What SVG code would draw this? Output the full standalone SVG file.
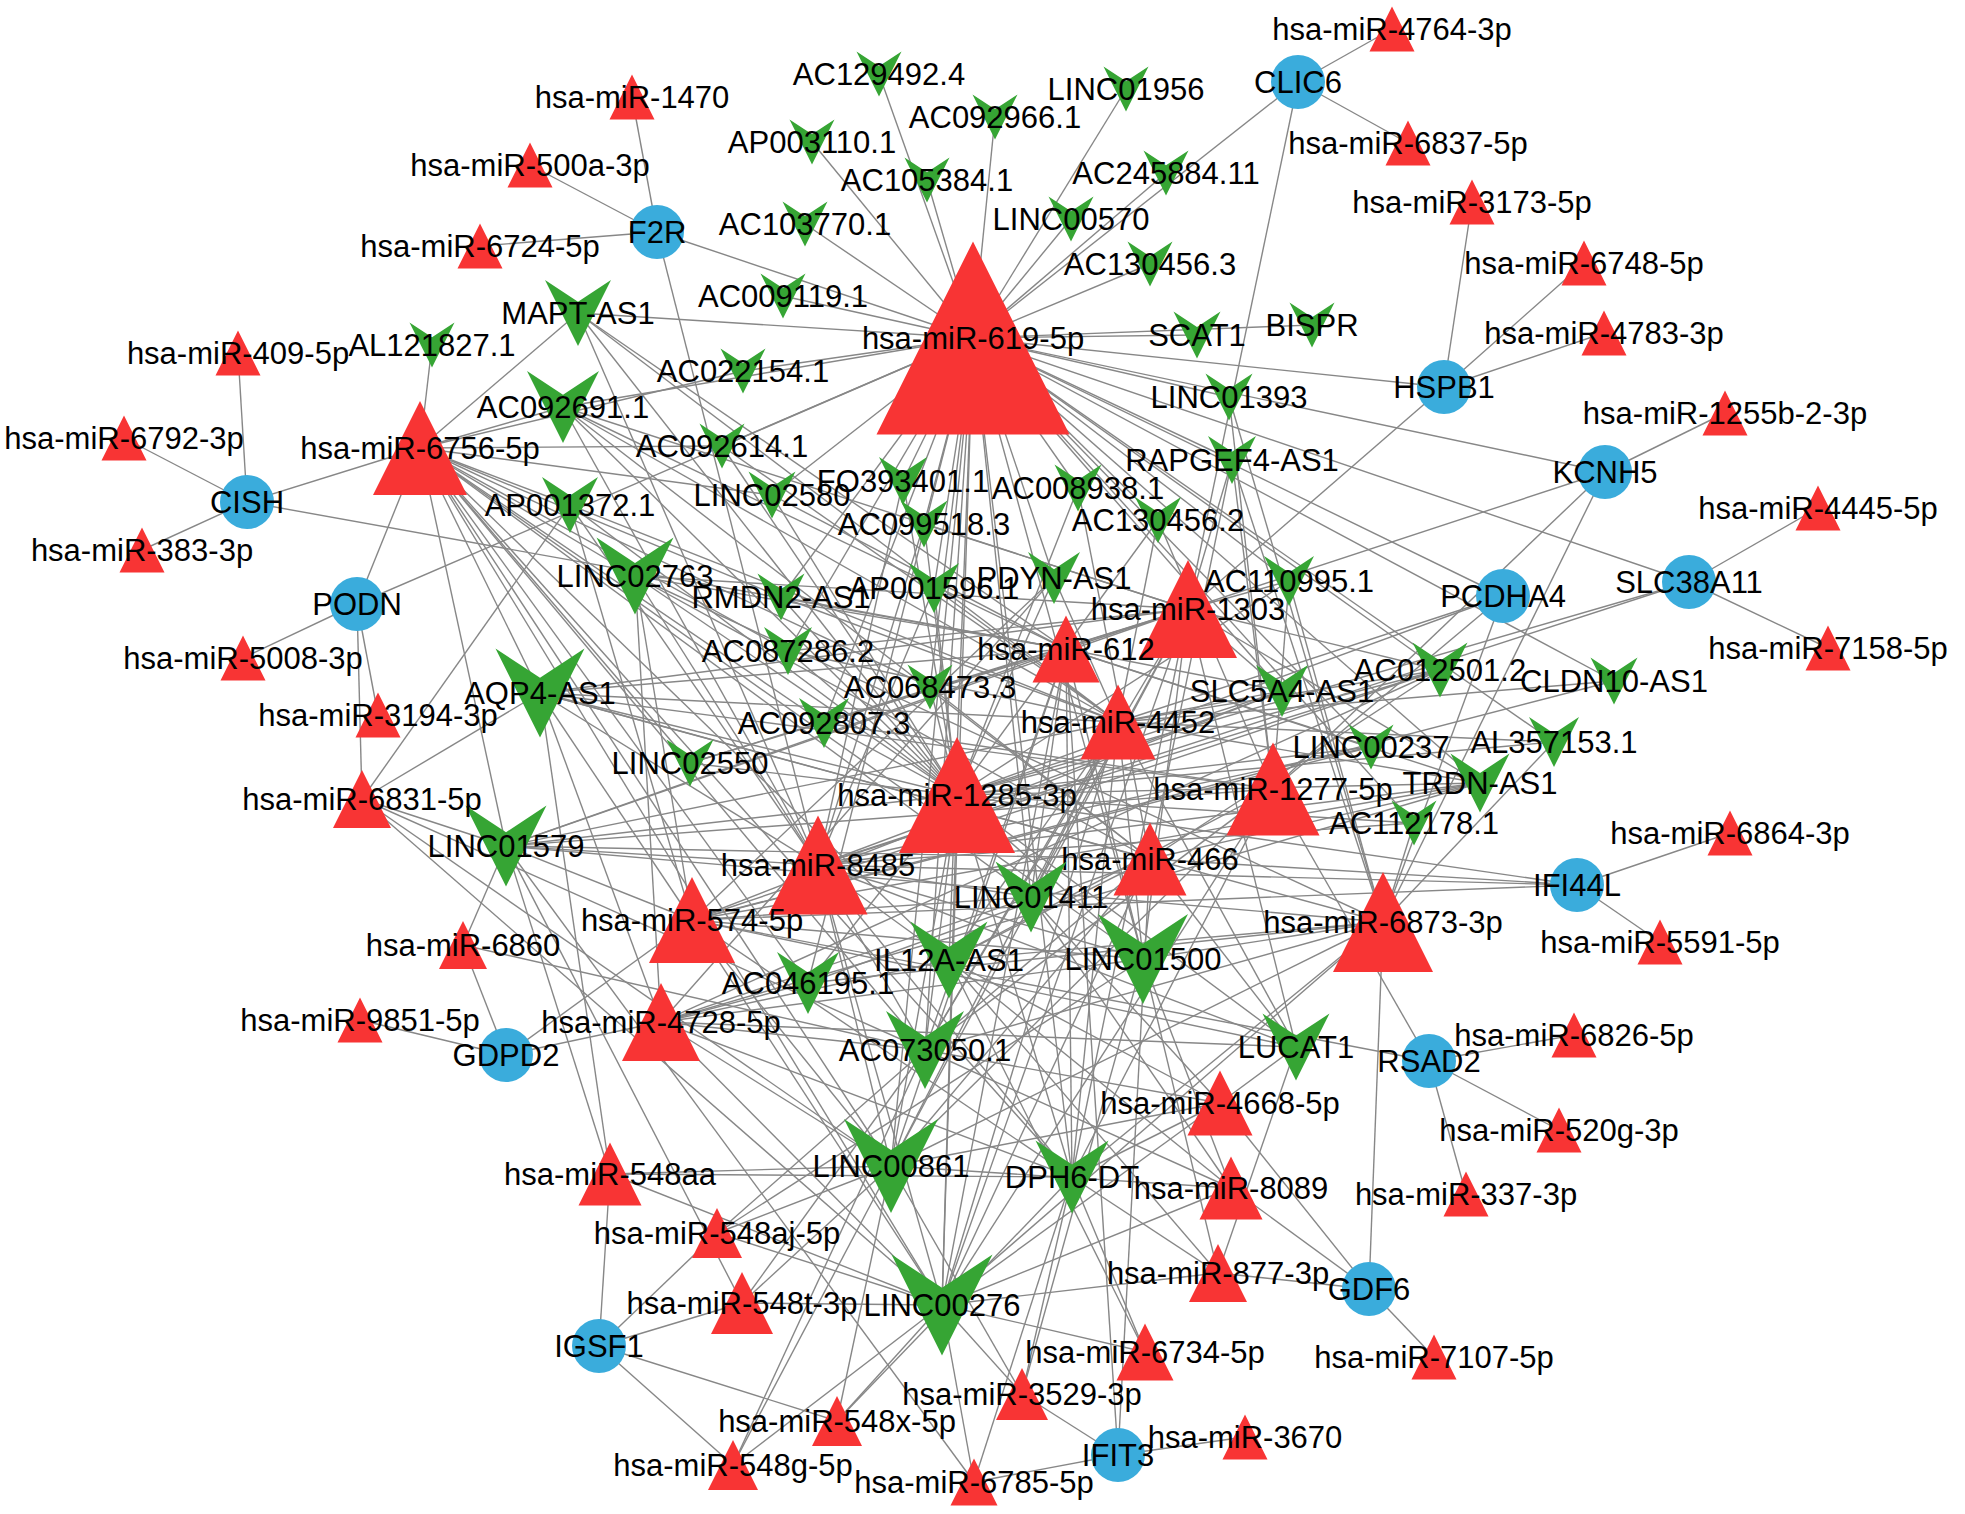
<svg xmlns="http://www.w3.org/2000/svg" xmlns:xlink="http://www.w3.org/1999/xlink" width="1965" height="1514" viewBox="0 0 1965 1514">
<defs>
<style>
.e path{fill:none;stroke:#878787;stroke-width:1.4}
text{font-family:"Liberation Sans",Arial,sans-serif;font-size:31px;fill:#000;text-anchor:middle}
.t{fill:#f83434}
.v{fill:#36a534}
.c{fill:#3aacdc}
</style>
<polygon id="tri" points="0,-0.5 -0.5,0.5 0.5,0.5"/>
<polygon id="vee" points="-0.5,-0.5 0,-0.17 0.5,-0.5 0,0.5"/>
<circle id="circ" r="27"/>
</defs>
<rect width="1965" height="1514" fill="#fff"/>
<g id="edges" class="e">
<path d="M657 232L632 97"/><path d="M657 232L530 165"/><path d="M657 232L480 246"/><path d="M657 232L973 338"/><path d="M657 232L818 865"/>
<path d="M247 502L238 353"/><path d="M247 502L124 438"/><path d="M247 502L142 550"/><path d="M247 502L420 448"/><path d="M247 502L1066 649"/>
<path d="M357 604L243 658"/><path d="M357 604L378 715"/><path d="M357 604L362 799"/><path d="M357 604L420 448"/><path d="M357 604L973 338"/>
<path d="M506 1055L360 1020"/><path d="M506 1055L463 945"/><path d="M506 1055L661 1022"/><path d="M506 1055L692 920"/>
<path d="M599 1346L610 1174"/><path d="M599 1346L717 1233"/><path d="M599 1346L742 1303"/><path d="M599 1346L837 1421"/><path d="M599 1346L733 1465"/>
<path d="M1118 1455L1245 1437"/><path d="M1118 1455L974 1482"/><path d="M1118 1455L1022 1394"/><path d="M1118 1455L1150 859"/><path d="M1118 1455L1066 649"/>
<path d="M1369 1289L1434 1357"/><path d="M1369 1289L1220 1103"/><path d="M1369 1289L1231 1188"/><path d="M1369 1289L1218 1273"/><path d="M1369 1289L1383 922"/>
<path d="M1429 1061L1574 1035"/><path d="M1429 1061L1559 1130"/><path d="M1429 1061L1466 1194"/><path d="M1429 1061L692 920"/><path d="M1429 1061L1273 789"/>
<path d="M1577 885L1730 833"/><path d="M1577 885L1660 942"/><path d="M1577 885L1150 859"/><path d="M1577 885L818 865"/><path d="M1577 885L957 795"/><path d="M1577 885L692 920"/>
<path d="M1689 582L1818 508"/><path d="M1689 582L1828 648"/><path d="M1689 582L818 865"/><path d="M1689 582L957 795"/><path d="M1689 582L973 338"/>
<path d="M1503 596L973 338"/><path d="M1503 596L1118 722"/><path d="M1503 596L957 795"/><path d="M1503 596L1383 922"/><path d="M1503 596L1273 789"/>
<path d="M1605 472L1725 413"/><path d="M1605 472L973 338"/><path d="M1605 472L1066 649"/><path d="M1605 472L1273 789"/><path d="M1605 472L1383 922"/>
<path d="M1444 387L1472 202"/><path d="M1444 387L1584 263"/><path d="M1444 387L1604 333"/><path d="M1444 387L973 338"/><path d="M1444 387L1188 609"/>
<path d="M1298 82L1392 29"/><path d="M1298 82L1408 143"/><path d="M1298 82L973 338"/><path d="M1298 82L1188 609"/>
<path d="M879 74L973 338"/><path d="M1126 89L973 338"/><path d="M995 117L973 338"/><path d="M812 142L973 338"/><path d="M927 180L973 338"/><path d="M1166 173L973 338"/><path d="M805 224L973 338"/><path d="M1071 219L973 338"/><path d="M1150 264L973 338"/><path d="M783 296L973 338"/><path d="M1312 325L973 338"/><path d="M1197 335L973 338"/>
<path d="M432 345L420 448"/>
<path d="M578 313L973 338"/><path d="M578 313L420 448"/><path d="M578 313L957 795"/><path d="M578 313L818 865"/><path d="M578 313L1118 722"/><path d="M578 313L1066 649"/>
<path d="M743 371L973 338"/><path d="M743 371L420 448"/>
<path d="M1229 397L973 338"/><path d="M1229 397L1383 922"/><path d="M1229 397L1273 789"/>
<path d="M563 407L973 338"/><path d="M563 407L420 448"/><path d="M563 407L957 795"/><path d="M563 407L818 865"/><path d="M563 407L1188 609"/><path d="M563 407L1118 722"/><path d="M563 407L1066 649"/><path d="M563 407L1150 859"/>
<path d="M722 446L973 338"/><path d="M722 446L420 448"/><path d="M722 446L957 795"/><path d="M722 446L1118 722"/>
<path d="M1232 460L973 338"/><path d="M1232 460L1383 922"/><path d="M1232 460L1273 789"/><path d="M1232 460L1188 609"/><path d="M1232 460L1150 859"/>
<path d="M903 481L973 338"/><path d="M903 481L957 795"/><path d="M903 481L818 865"/>
<path d="M1078 488L973 338"/><path d="M1078 488L957 795"/><path d="M1078 488L1150 859"/>
<path d="M570 505L420 448"/><path d="M570 505L957 795"/><path d="M570 505L818 865"/><path d="M570 505L692 920"/><path d="M570 505L1118 722"/><path d="M570 505L362 799"/>
<path d="M772 495L973 338"/><path d="M772 495L420 448"/><path d="M772 495L957 795"/><path d="M772 495L1066 649"/>
<path d="M924 524L973 338"/><path d="M924 524L957 795"/><path d="M924 524L818 865"/><path d="M924 524L1188 609"/>
<path d="M1158 520L973 338"/><path d="M1158 520L957 795"/><path d="M1158 520L1273 789"/><path d="M1158 520L1118 722"/>
<path d="M635 576L420 448"/><path d="M635 576L957 795"/><path d="M635 576L818 865"/><path d="M635 576L692 920"/><path d="M635 576L661 1022"/><path d="M635 576L1383 922"/><path d="M635 576L1188 609"/><path d="M635 576L1066 649"/><path d="M635 576L1150 859"/>
<path d="M781 597L973 338"/><path d="M781 597L420 448"/><path d="M781 597L957 795"/><path d="M781 597L1118 722"/><path d="M781 597L1066 649"/>
<path d="M934 588L973 338"/><path d="M934 588L957 795"/><path d="M934 588L818 865"/><path d="M934 588L1118 722"/>
<path d="M1054 578L973 338"/><path d="M1054 578L957 795"/><path d="M1054 578L692 920"/><path d="M1054 578L661 1022"/><path d="M1054 578L1118 722"/>
<path d="M1289 581L973 338"/><path d="M1289 581L957 795"/><path d="M1289 581L1383 922"/><path d="M1289 581L1273 789"/><path d="M1289 581L1188 609"/>
<path d="M788 651L973 338"/><path d="M788 651L420 448"/><path d="M788 651L957 795"/><path d="M788 651L1188 609"/><path d="M788 651L1118 722"/>
<path d="M930 687L973 338"/><path d="M930 687L420 448"/><path d="M930 687L957 795"/><path d="M930 687L1150 859"/>
<path d="M1282 691L973 338"/><path d="M1282 691L957 795"/><path d="M1282 691L818 865"/><path d="M1282 691L692 920"/><path d="M1282 691L1188 609"/><path d="M1282 691L1118 722"/><path d="M1282 691L1066 649"/>
<path d="M1440 670L973 338"/><path d="M1440 670L957 795"/><path d="M1440 670L818 865"/><path d="M1440 670L692 920"/><path d="M1440 670L661 1022"/><path d="M1440 670L1188 609"/><path d="M1440 670L1118 722"/><path d="M1440 670L1150 859"/>
<path d="M1614 681L973 338"/><path d="M1614 681L692 920"/><path d="M1614 681L1118 722"/>
<path d="M540 693L420 448"/><path d="M540 693L957 795"/><path d="M540 693L818 865"/><path d="M540 693L692 920"/><path d="M540 693L661 1022"/><path d="M540 693L1383 922"/><path d="M540 693L1273 789"/><path d="M540 693L1188 609"/><path d="M540 693L1118 722"/><path d="M540 693L1066 649"/><path d="M540 693L1150 859"/><path d="M540 693L610 1174"/><path d="M540 693L362 799"/>
<path d="M824 723L973 338"/><path d="M824 723L420 448"/><path d="M824 723L957 795"/><path d="M824 723L1273 789"/><path d="M824 723L1188 609"/>
<path d="M690 763L420 448"/><path d="M690 763L957 795"/><path d="M690 763L1188 609"/><path d="M690 763L1066 649"/>
<path d="M1371 747L973 338"/><path d="M1371 747L957 795"/><path d="M1371 747L818 865"/><path d="M1371 747L692 920"/><path d="M1371 747L1066 649"/>
<path d="M1554 742L973 338"/><path d="M1554 742L957 795"/><path d="M1554 742L1383 922"/><path d="M1554 742L1118 722"/>
<path d="M1480 783L973 338"/><path d="M1480 783L957 795"/><path d="M1480 783L818 865"/><path d="M1480 783L692 920"/><path d="M1480 783L661 1022"/><path d="M1480 783L1188 609"/><path d="M1480 783L1118 722"/><path d="M1480 783L1066 649"/><path d="M1480 783L1150 859"/>
<path d="M1414 823L973 338"/><path d="M1414 823L957 795"/><path d="M1414 823L818 865"/><path d="M1414 823L1383 922"/>
<path d="M506 846L420 448"/><path d="M506 846L957 795"/><path d="M506 846L818 865"/><path d="M506 846L692 920"/><path d="M506 846L1383 922"/><path d="M506 846L1273 789"/><path d="M506 846L1188 609"/><path d="M506 846L1118 722"/><path d="M506 846L1066 649"/><path d="M506 846L1150 859"/><path d="M506 846L742 1303"/><path d="M506 846L610 1174"/><path d="M506 846L974 1482"/><path d="M506 846L362 799"/><path d="M506 846L463 945"/>
<path d="M1031 897L973 338"/><path d="M1031 897L420 448"/><path d="M1031 897L818 865"/><path d="M1031 897L692 920"/><path d="M1031 897L661 1022"/><path d="M1031 897L1188 609"/><path d="M1031 897L1118 722"/><path d="M1031 897L1066 649"/><path d="M1031 897L1220 1103"/><path d="M1031 897L1231 1188"/>
<path d="M949 960L973 338"/><path d="M949 960L420 448"/><path d="M949 960L818 865"/><path d="M949 960L661 1022"/><path d="M949 960L1383 922"/><path d="M949 960L1273 789"/><path d="M949 960L1118 722"/><path d="M949 960L1150 859"/><path d="M949 960L1220 1103"/><path d="M949 960L1231 1188"/><path d="M949 960L1218 1273"/><path d="M949 960L1145 1352"/>
<path d="M1143 959L973 338"/><path d="M1143 959L420 448"/><path d="M1143 959L957 795"/><path d="M1143 959L818 865"/><path d="M1143 959L692 920"/><path d="M1143 959L661 1022"/><path d="M1143 959L1383 922"/><path d="M1143 959L1188 609"/><path d="M1143 959L1118 722"/><path d="M1143 959L1066 649"/><path d="M1143 959L1231 1188"/><path d="M1143 959L1218 1273"/><path d="M1143 959L1022 1394"/><path d="M1143 959L717 1233"/>
<path d="M808 983L973 338"/><path d="M808 983L420 448"/><path d="M808 983L957 795"/><path d="M808 983L661 1022"/><path d="M808 983L1383 922"/><path d="M808 983L1150 859"/>
<path d="M925 1050L973 338"/><path d="M925 1050L420 448"/><path d="M925 1050L957 795"/><path d="M925 1050L818 865"/><path d="M925 1050L1383 922"/><path d="M925 1050L1273 789"/><path d="M925 1050L1188 609"/><path d="M925 1050L1118 722"/><path d="M925 1050L1066 649"/><path d="M925 1050L1150 859"/><path d="M925 1050L1220 1103"/><path d="M925 1050L1231 1188"/><path d="M925 1050L742 1303"/><path d="M925 1050L717 1233"/><path d="M925 1050L733 1465"/><path d="M925 1050L463 945"/><path d="M925 1050L661 1022"/><path d="M925 1050L362 799"/>
<path d="M1296 1047L957 795"/><path d="M1296 1047L818 865"/><path d="M1296 1047L692 920"/><path d="M1296 1047L661 1022"/><path d="M1296 1047L1188 609"/><path d="M1296 1047L1118 722"/><path d="M1296 1047L1150 859"/><path d="M1296 1047L1220 1103"/><path d="M1296 1047L1218 1273"/>
<path d="M891 1166L973 338"/><path d="M891 1166L420 448"/><path d="M891 1166L957 795"/><path d="M891 1166L818 865"/><path d="M891 1166L692 920"/><path d="M891 1166L1383 922"/><path d="M891 1166L1273 789"/><path d="M891 1166L1188 609"/><path d="M891 1166L1118 722"/><path d="M891 1166L1066 649"/><path d="M891 1166L1150 859"/><path d="M891 1166L1220 1103"/><path d="M891 1166L1231 1188"/><path d="M891 1166L742 1303"/><path d="M891 1166L610 1174"/><path d="M891 1166L717 1233"/><path d="M891 1166L1022 1394"/><path d="M891 1166L837 1421"/><path d="M891 1166L733 1465"/><path d="M891 1166L362 799"/><path d="M891 1166L661 1022"/>
<path d="M1072 1177L973 338"/><path d="M1072 1177L420 448"/><path d="M1072 1177L957 795"/><path d="M1072 1177L818 865"/><path d="M1072 1177L692 920"/><path d="M1072 1177L661 1022"/><path d="M1072 1177L1383 922"/><path d="M1072 1177L1273 789"/><path d="M1072 1177L1188 609"/><path d="M1072 1177L1118 722"/><path d="M1072 1177L1066 649"/><path d="M1072 1177L1220 1103"/><path d="M1072 1177L1218 1273"/><path d="M1072 1177L1145 1352"/><path d="M1072 1177L610 1174"/><path d="M1072 1177L1022 1394"/><path d="M1072 1177L974 1482"/><path d="M1072 1177L837 1421"/>
<path d="M942 1305L973 338"/><path d="M942 1305L420 448"/><path d="M942 1305L957 795"/><path d="M942 1305L818 865"/><path d="M942 1305L692 920"/><path d="M942 1305L661 1022"/><path d="M942 1305L1383 922"/><path d="M942 1305L1273 789"/><path d="M942 1305L1188 609"/><path d="M942 1305L1118 722"/><path d="M942 1305L1066 649"/><path d="M942 1305L1150 859"/><path d="M942 1305L1220 1103"/><path d="M942 1305L1231 1188"/><path d="M942 1305L1218 1273"/><path d="M942 1305L1145 1352"/><path d="M942 1305L742 1303"/><path d="M942 1305L610 1174"/><path d="M942 1305L717 1233"/><path d="M942 1305L1022 1394"/><path d="M942 1305L837 1421"/><path d="M942 1305L733 1465"/><path d="M942 1305L974 1482"/><path d="M942 1305L362 799"/>
</g>
<g id="nodes">
<g id="n-hsa-miR-619-5p" transform="translate(973 338)"><use href="#tri" class="t" transform="scale(193)"/><text y="11">hsa-miR-619-5p</text></g>
<g id="n-hsa-miR-1285-3p" transform="translate(957 795)"><use href="#tri" class="t" transform="scale(116)"/><text y="11">hsa-miR-1285-3p</text></g>
<g id="n-LINC00276" transform="translate(942 1305)"><use href="#vee" class="v" transform="scale(101)"/><text y="11">LINC00276</text></g>
<g id="n-hsa-miR-6873-3p" transform="translate(1383 922)"><use href="#tri" class="t" transform="scale(100)"/><text y="11">hsa-miR-6873-3p</text></g>
<g id="n-hsa-miR-8485" transform="translate(818 865)"><use href="#tri" class="t" transform="scale(99)"/><text y="11">hsa-miR-8485</text></g>
<g id="n-hsa-miR-1303" transform="translate(1188 609)"><use href="#tri" class="t" transform="scale(98)"/><text y="11">hsa-miR-1303</text></g>
<g id="n-hsa-miR-6756-5p" transform="translate(420 448)"><use href="#tri" class="t" transform="scale(94)"/><text y="11">hsa-miR-6756-5p</text></g>
<g id="n-LINC00861" transform="translate(891 1166)"><use href="#vee" class="v" transform="scale(94)"/><text y="11">LINC00861</text></g>
<g id="n-hsa-miR-1277-5p" transform="translate(1273 789)"><use href="#tri" class="t" transform="scale(93)"/><text y="11">hsa-miR-1277-5p</text></g>
<g id="n-LINC01500" transform="translate(1143 959)"><use href="#vee" class="v" transform="scale(90)"/><text y="11">LINC01500</text></g>
<g id="n-AQP4-AS1" transform="translate(540 693)"><use href="#vee" class="v" transform="scale(89)"/><text y="11">AQP4-AS1</text></g>
<g id="n-hsa-miR-574-5p" transform="translate(692 920)"><use href="#tri" class="t" transform="scale(86)"/><text y="11">hsa-miR-574-5p</text></g>
<g id="n-LINC01579" transform="translate(506 846)"><use href="#vee" class="v" transform="scale(81)"/><text y="11">LINC01579</text></g>
<g id="n-hsa-miR-4728-5p" transform="translate(661 1022)"><use href="#tri" class="t" transform="scale(78)"/><text y="11">hsa-miR-4728-5p</text></g>
<g id="n-AC073050_1" transform="translate(925 1050)"><use href="#vee" class="v" transform="scale(78)"/><text y="11">AC073050.1</text></g>
<g id="n-IL12A-AS1" transform="translate(949 960)"><use href="#vee" class="v" transform="scale(77)"/><text y="11">IL12A-AS1</text></g>
<g id="n-LINC02763" transform="translate(635 576)"><use href="#vee" class="v" transform="scale(77)"/><text y="11">LINC02763</text></g>
<g id="n-hsa-miR-4452" transform="translate(1118 722)"><use href="#tri" class="t" transform="scale(75)"/><text y="11">hsa-miR-4452</text></g>
<g id="n-hsa-miR-466" transform="translate(1150 859)"><use href="#tri" class="t" transform="scale(73)"/><text y="11">hsa-miR-466</text></g>
<g id="n-DPH6-DT" transform="translate(1072 1177)"><use href="#vee" class="v" transform="scale(73)"/><text y="11">DPH6-DT</text></g>
<g id="n-AC092691_1" transform="translate(563 407)"><use href="#vee" class="v" transform="scale(72)"/><text y="11">AC092691.1</text></g>
<g id="n-LINC01411" transform="translate(1031 897)"><use href="#vee" class="v" transform="scale(71)"/><text y="11">LINC01411</text></g>
<g id="n-hsa-miR-612" transform="translate(1066 649)"><use href="#tri" class="t" transform="scale(67)"/><text y="11">hsa-miR-612</text></g>
<g id="n-LUCAT1" transform="translate(1296 1047)"><use href="#vee" class="v" transform="scale(67)"/><text y="11">LUCAT1</text></g>
<g id="n-MAPT-AS1" transform="translate(578 313)"><use href="#vee" class="v" transform="scale(66)"/><text y="11">MAPT-AS1</text></g>
<g id="n-hsa-miR-4668-5p" transform="translate(1220 1103)"><use href="#tri" class="t" transform="scale(65)"/><text y="11">hsa-miR-4668-5p</text></g>
<g id="n-hsa-miR-8089" transform="translate(1231 1188)"><use href="#tri" class="t" transform="scale(63)"/><text y="11">hsa-miR-8089</text></g>
<g id="n-hsa-miR-548aa" transform="translate(610 1174)"><use href="#tri" class="t" transform="scale(63)"/><text y="11">hsa-miR-548aa</text></g>
<g id="n-AC046195_1" transform="translate(808 983)"><use href="#vee" class="v" transform="scale(62)"/><text y="11">AC046195.1</text></g>
<g id="n-hsa-miR-548t-3p" transform="translate(742 1303)"><use href="#tri" class="t" transform="scale(62)"/><text y="11">hsa-miR-548t-3p</text></g>
<g id="n-TRDN-AS1" transform="translate(1480 783)"><use href="#vee" class="v" transform="scale(59)"/><text y="11">TRDN-AS1</text></g>
<g id="n-hsa-miR-6831-5p" transform="translate(362 799)"><use href="#tri" class="t" transform="scale(58)"/><text y="11">hsa-miR-6831-5p</text></g>
<g id="n-hsa-miR-877-3p" transform="translate(1218 1273)"><use href="#tri" class="t" transform="scale(58)"/><text y="11">hsa-miR-877-3p</text></g>
<g id="n-hsa-miR-6734-5p" transform="translate(1145 1352)"><use href="#tri" class="t" transform="scale(57)"/><text y="11">hsa-miR-6734-5p</text></g>
<g id="n-AP001372_1" transform="translate(570 505)"><use href="#vee" class="v" transform="scale(56)"/><text y="11">AP001372.1</text></g>
<g id="n-AC012501_2" transform="translate(1440 670)"><use href="#vee" class="v" transform="scale(55)"/><text y="11">AC012501.2</text></g>
<g id="n-F2R" transform="translate(657 232)"><use href="#circ" class="c"/><text y="11">F2R</text></g>
<g id="n-CLIC6" transform="translate(1298 82)"><use href="#circ" class="c"/><text y="11">CLIC6</text></g>
<g id="n-HSPB1" transform="translate(1444 387)"><use href="#circ" class="c"/><text y="11">HSPB1</text></g>
<g id="n-KCNH5" transform="translate(1605 472)"><use href="#circ" class="c"/><text y="11">KCNH5</text></g>
<g id="n-CISH" transform="translate(247 502)"><use href="#circ" class="c"/><text y="11">CISH</text></g>
<g id="n-PODN" transform="translate(357 604)"><use href="#circ" class="c"/><text y="11">PODN</text></g>
<g id="n-PCDHA4" transform="translate(1503 596)"><use href="#circ" class="c"/><text y="11">PCDHA4</text></g>
<g id="n-SLC38A11" transform="translate(1689 582)"><use href="#circ" class="c"/><text y="11">SLC38A11</text></g>
<g id="n-IFI44L" transform="translate(1577 885)"><use href="#circ" class="c"/><text y="11">IFI44L</text></g>
<g id="n-GDPD2" transform="translate(506 1055)"><use href="#circ" class="c"/><text y="11">GDPD2</text></g>
<g id="n-RSAD2" transform="translate(1429 1061)"><use href="#circ" class="c"/><text y="11">RSAD2</text></g>
<g id="n-GDF6" transform="translate(1369 1289)"><use href="#circ" class="c"/><text y="11">GDF6</text></g>
<g id="n-IGSF1" transform="translate(599 1346)"><use href="#circ" class="c"/><text y="11">IGSF1</text></g>
<g id="n-IFIT3" transform="translate(1118 1455)"><use href="#circ" class="c"/><text y="11">IFIT3</text></g>
<g id="n-hsa-miR-3529-3p" transform="translate(1022 1394)"><use href="#tri" class="t" transform="scale(52)"/><text y="11">hsa-miR-3529-3p</text></g>
<g id="n-PDYN-AS1" transform="translate(1054 578)"><use href="#vee" class="v" transform="scale(52)"/><text y="11">PDYN-AS1</text></g>
<g id="n-SLC5A4-AS1" transform="translate(1282 691)"><use href="#vee" class="v" transform="scale(52)"/><text y="11">SLC5A4-AS1</text></g>
<g id="n-AC110995_1" transform="translate(1289 581)"><use href="#vee" class="v" transform="scale(50)"/><text y="11">AC110995.1</text></g>
<g id="n-AP001596_1" transform="translate(934 588)"><use href="#vee" class="v" transform="scale(50)"/><text y="11">AP001596.1</text></g>
<g id="n-AC092807_3" transform="translate(824 723)"><use href="#vee" class="v" transform="scale(50)"/><text y="11">AC092807.3</text></g>
<g id="n-AL357153_1" transform="translate(1554 742)"><use href="#vee" class="v" transform="scale(50)"/><text y="11">AL357153.1</text></g>
<g id="n-hsa-miR-548x-5p" transform="translate(837 1421)"><use href="#tri" class="t" transform="scale(50)"/><text y="11">hsa-miR-548x-5p</text></g>
<g id="n-hsa-miR-548g-5p" transform="translate(733 1465)"><use href="#tri" class="t" transform="scale(50)"/><text y="11">hsa-miR-548g-5p</text></g>
<g id="n-hsa-miR-548aj-5p" transform="translate(717 1233)"><use href="#tri" class="t" transform="scale(50)"/><text y="11">hsa-miR-548aj-5p</text></g>
<g id="n-hsa-miR-6860" transform="translate(463 945)"><use href="#tri" class="t" transform="scale(48)"/><text y="11">hsa-miR-6860</text></g>
<g id="n-hsa-miR-6785-5p" transform="translate(974 1482)"><use href="#tri" class="t" transform="scale(47)"/><text y="11">hsa-miR-6785-5p</text></g>
<g id="n-AC087286_2" transform="translate(788 651)"><use href="#vee" class="v" transform="scale(48)"/><text y="11">AC087286.2</text></g>
<g id="n-RAPGEF4-AS1" transform="translate(1232 460)"><use href="#vee" class="v" transform="scale(48)"/><text y="11">RAPGEF4-AS1</text></g>
<g id="n-FO393401_1" transform="translate(903 481)"><use href="#vee" class="v" transform="scale(48)"/><text y="11">FO393401.1</text></g>
<g id="n-LINC01393" transform="translate(1229 397)"><use href="#vee" class="v" transform="scale(47)"/><text y="11">LINC01393</text></g>
<g id="n-AC008938_1" transform="translate(1078 488)"><use href="#vee" class="v" transform="scale(47)"/><text y="11">AC008938.1</text></g>
<g id="n-LINC02580" transform="translate(772 495)"><use href="#vee" class="v" transform="scale(47)"/><text y="11">LINC02580</text></g>
<g id="n-AC099518_3" transform="translate(924 524)"><use href="#vee" class="v" transform="scale(47)"/><text y="11">AC099518.3</text></g>
<g id="n-RMDN2-AS1" transform="translate(781 597)"><use href="#vee" class="v" transform="scale(47)"/><text y="11">RMDN2-AS1</text></g>
<g id="n-LINC02550" transform="translate(690 763)"><use href="#vee" class="v" transform="scale(47)"/><text y="11">LINC02550</text></g>
<g id="n-CLDN10-AS1" transform="translate(1614 681)"><use href="#vee" class="v" transform="scale(47)"/><text y="11">CLDN10-AS1</text></g>
<g id="n-SCAT1" transform="translate(1197 335)"><use href="#vee" class="v" transform="scale(47)"/><text y="11">SCAT1</text></g>
<g id="n-AC130456_2" transform="translate(1158 520)"><use href="#vee" class="v" transform="scale(46)"/><text y="11">AC130456.2</text></g>
<g id="n-AC068473_3" transform="translate(930 687)"><use href="#vee" class="v" transform="scale(45)"/><text y="11">AC068473.3</text></g>
<g id="n-LINC00237" transform="translate(1371 747)"><use href="#vee" class="v" transform="scale(45)"/><text y="11">LINC00237</text></g>
<g id="n-AC112178_1" transform="translate(1414 823)"><use href="#vee" class="v" transform="scale(45)"/><text y="11">AC112178.1</text></g>
<g id="n-AC129492_4" transform="translate(879 74)"><use href="#vee" class="v" transform="scale(45)"/><text y="11">AC129492.4</text></g>
<g id="n-LINC01956" transform="translate(1126 89)"><use href="#vee" class="v" transform="scale(45)"/><text y="11">LINC01956</text></g>
<g id="n-AC092966_1" transform="translate(995 117)"><use href="#vee" class="v" transform="scale(45)"/><text y="11">AC092966.1</text></g>
<g id="n-AP003110_1" transform="translate(812 142)"><use href="#vee" class="v" transform="scale(45)"/><text y="11">AP003110.1</text></g>
<g id="n-AC105384_1" transform="translate(927 180)"><use href="#vee" class="v" transform="scale(45)"/><text y="11">AC105384.1</text></g>
<g id="n-AC245884_11" transform="translate(1166 173)"><use href="#vee" class="v" transform="scale(45)"/><text y="11">AC245884.11</text></g>
<g id="n-AC103770_1" transform="translate(805 224)"><use href="#vee" class="v" transform="scale(45)"/><text y="11">AC103770.1</text></g>
<g id="n-LINC00570" transform="translate(1071 219)"><use href="#vee" class="v" transform="scale(45)"/><text y="11">LINC00570</text></g>
<g id="n-AC130456_3" transform="translate(1150 264)"><use href="#vee" class="v" transform="scale(45)"/><text y="11">AC130456.3</text></g>
<g id="n-AC009119_1" transform="translate(783 296)"><use href="#vee" class="v" transform="scale(45)"/><text y="11">AC009119.1</text></g>
<g id="n-AL121827_1" transform="translate(432 345)"><use href="#vee" class="v" transform="scale(45)"/><text y="11">AL121827.1</text></g>
<g id="n-BISPR" transform="translate(1312 325)"><use href="#vee" class="v" transform="scale(45)"/><text y="11">BISPR</text></g>
<g id="n-AC022154_1" transform="translate(743 371)"><use href="#vee" class="v" transform="scale(45)"/><text y="11">AC022154.1</text></g>
<g id="n-AC092614_1" transform="translate(722 446)"><use href="#vee" class="v" transform="scale(45)"/><text y="11">AC092614.1</text></g>
<g id="n-hsa-miR-1470" transform="translate(632 97)"><use href="#tri" class="t" transform="scale(45)"/><text y="11">hsa-miR-1470</text></g>
<g id="n-hsa-miR-500a-3p" transform="translate(530 165)"><use href="#tri" class="t" transform="scale(45)"/><text y="11">hsa-miR-500a-3p</text></g>
<g id="n-hsa-miR-6724-5p" transform="translate(480 246)"><use href="#tri" class="t" transform="scale(45)"/><text y="11">hsa-miR-6724-5p</text></g>
<g id="n-hsa-miR-409-5p" transform="translate(238 353)"><use href="#tri" class="t" transform="scale(45)"/><text y="11">hsa-miR-409-5p</text></g>
<g id="n-hsa-miR-6792-3p" transform="translate(124 438)"><use href="#tri" class="t" transform="scale(45)"/><text y="11">hsa-miR-6792-3p</text></g>
<g id="n-hsa-miR-383-3p" transform="translate(142 550)"><use href="#tri" class="t" transform="scale(45)"/><text y="11">hsa-miR-383-3p</text></g>
<g id="n-hsa-miR-5008-3p" transform="translate(243 658)"><use href="#tri" class="t" transform="scale(45)"/><text y="11">hsa-miR-5008-3p</text></g>
<g id="n-hsa-miR-3194-3p" transform="translate(378 715)"><use href="#tri" class="t" transform="scale(45)"/><text y="11">hsa-miR-3194-3p</text></g>
<g id="n-hsa-miR-9851-5p" transform="translate(360 1020)"><use href="#tri" class="t" transform="scale(45)"/><text y="11">hsa-miR-9851-5p</text></g>
<g id="n-hsa-miR-4764-3p" transform="translate(1392 29)"><use href="#tri" class="t" transform="scale(45)"/><text y="11">hsa-miR-4764-3p</text></g>
<g id="n-hsa-miR-6837-5p" transform="translate(1408 143)"><use href="#tri" class="t" transform="scale(45)"/><text y="11">hsa-miR-6837-5p</text></g>
<g id="n-hsa-miR-3173-5p" transform="translate(1472 202)"><use href="#tri" class="t" transform="scale(45)"/><text y="11">hsa-miR-3173-5p</text></g>
<g id="n-hsa-miR-6748-5p" transform="translate(1584 263)"><use href="#tri" class="t" transform="scale(45)"/><text y="11">hsa-miR-6748-5p</text></g>
<g id="n-hsa-miR-4783-3p" transform="translate(1604 333)"><use href="#tri" class="t" transform="scale(45)"/><text y="11">hsa-miR-4783-3p</text></g>
<g id="n-hsa-miR-1255b-2-3p" transform="translate(1725 413)"><use href="#tri" class="t" transform="scale(45)"/><text y="11">hsa-miR-1255b-2-3p</text></g>
<g id="n-hsa-miR-4445-5p" transform="translate(1818 508)"><use href="#tri" class="t" transform="scale(45)"/><text y="11">hsa-miR-4445-5p</text></g>
<g id="n-hsa-miR-7158-5p" transform="translate(1828 648)"><use href="#tri" class="t" transform="scale(45)"/><text y="11">hsa-miR-7158-5p</text></g>
<g id="n-hsa-miR-6864-3p" transform="translate(1730 833)"><use href="#tri" class="t" transform="scale(45)"/><text y="11">hsa-miR-6864-3p</text></g>
<g id="n-hsa-miR-5591-5p" transform="translate(1660 942)"><use href="#tri" class="t" transform="scale(45)"/><text y="11">hsa-miR-5591-5p</text></g>
<g id="n-hsa-miR-6826-5p" transform="translate(1574 1035)"><use href="#tri" class="t" transform="scale(45)"/><text y="11">hsa-miR-6826-5p</text></g>
<g id="n-hsa-miR-520g-3p" transform="translate(1559 1130)"><use href="#tri" class="t" transform="scale(45)"/><text y="11">hsa-miR-520g-3p</text></g>
<g id="n-hsa-miR-337-3p" transform="translate(1466 1194)"><use href="#tri" class="t" transform="scale(45)"/><text y="11">hsa-miR-337-3p</text></g>
<g id="n-hsa-miR-7107-5p" transform="translate(1434 1357)"><use href="#tri" class="t" transform="scale(45)"/><text y="11">hsa-miR-7107-5p</text></g>
<g id="n-hsa-miR-3670" transform="translate(1245 1437)"><use href="#tri" class="t" transform="scale(45)"/><text y="11">hsa-miR-3670</text></g>
</g>
</svg>
